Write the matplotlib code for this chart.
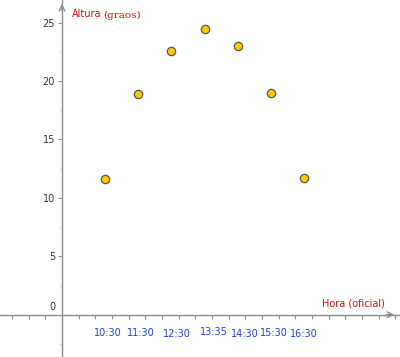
import numpy as np
import matplotlib
matplotlib.use('Agg')
from matplotlib import pyplot as plt
from matplotlib.ticker import MultipleLocator, NullFormatter

# dados
x_pts = [2.56, 4.56, 6.54, 8.56, 10.54, 12.52, 14.52]
altura = [11.6, 18.9, 22.6, 24.5, 23.0, 19.0, 11.7]
horas = ['10:30', '11:30', '12:30', '13:35', '14:30', '15:30', '16:30']

# posicoes dos rotulos das horas (coordenadas do grafico)
lab_x = [2.76, 4.74, 6.9, 9.12, 10.98, 12.72, 14.52]
lab_y = [-1.54, -1.54, -1.68, -1.48, -1.63, -1.57, -1.61]

AXIS = '#8c8c8c'
RED = '#d01010'
BLUE = '#2040d0'


def main():
    fig = plt.figure(figsize=(4.0, 3.57), dpi=100)
    ax = fig.add_axes([0, 0, 1, 1])
    ax.set_xlim(-3.72, 20.28)
    ax.set_ylim(-3.62, 26.94)

    for s in ['top', 'right']:
        ax.spines[s].set_visible(False)
    ax.spines['left'].set_position(('data', 0))
    ax.spines['bottom'].set_position(('data', 0))
    for s in ['left', 'bottom']:
        ax.spines[s].set_color(AXIS)
        ax.spines[s].set_linewidth(1.0)

    ax.xaxis.set_major_locator(MultipleLocator(1))
    ax.xaxis.set_major_formatter(NullFormatter())
    ax.tick_params(axis='x', direction='out', length=3, width=0.8, color=AXIS)

    ax.yaxis.set_major_locator(MultipleLocator(5))
    ax.yaxis.set_minor_locator(MultipleLocator(2.5))
    ax.set_yticks([5, 10, 15, 20, 25])
    ax.set_yticklabels(['5', '10', '15', '20', '25'])
    ax.tick_params(axis='y', which='major', direction='out', length=3,
                   width=0.8, color=AXIS, labelsize=7, labelcolor='#333333', pad=2)
    ax.tick_params(axis='y', which='minor', direction='out', length=1.5,
                   width=0.6, color='#bbbbbb')
    ax.text(-0.4, 0.25, '0', fontsize=7, color='#333333', ha='right', va='bottom')

    # setas dos eixos
    ax.annotate('', xy=(20.1, 0), xytext=(19.3, 0),
                arrowprops=dict(arrowstyle='->', color=AXIS, lw=1.0))
    ax.annotate('', xy=(0, 26.85), xytext=(0, 25.8),
                arrowprops=dict(arrowstyle='->', color=AXIS, lw=1.0))

    ax.scatter(x_pts, altura, s=36, facecolor='#ffc800', edgecolor='#555555',
               linewidths=0.9, zorder=5, clip_on=False)

    for lx, ly, h in zip(lab_x, lab_y, horas):
        ax.text(lx, ly, h, color=BLUE, fontsize=7, ha='center', va='center')

    ax.text(0.6, 25.7, 'Altura', color=RED, fontsize=7, ha='left', va='center')
    ax.text(2.45, 25.6, '(graos)', color=RED, fontsize=7.5, family='DejaVu Serif',
            ha='left', va='center')
    ax.text(19.4, 0.95, 'Hora (oficial)', color=RED, fontsize=7, ha='right',
            va='center')

    plt.savefig('out.png', dpi=100)


if __name__ == '__main__':
    main()
